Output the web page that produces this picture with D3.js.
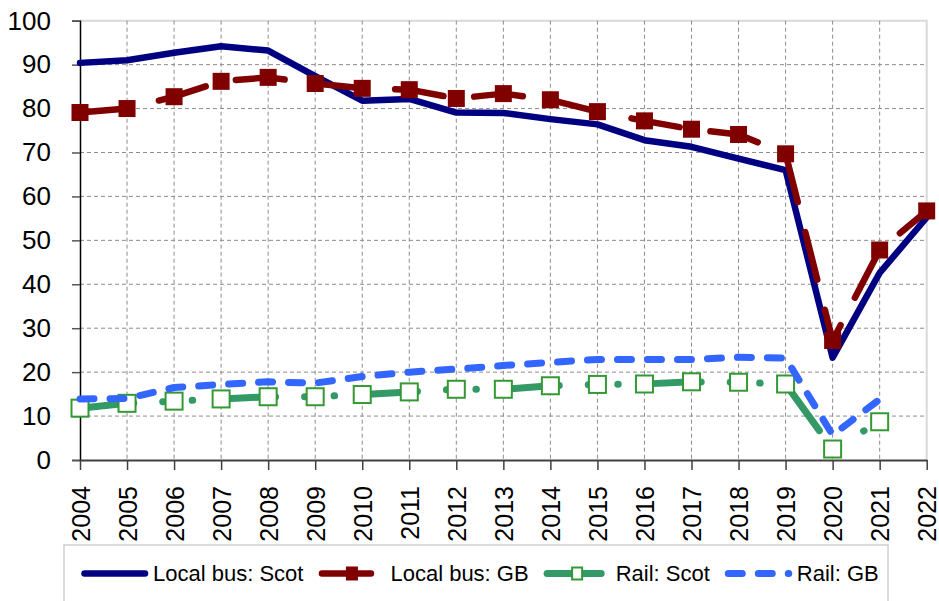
<!DOCTYPE html>
<html>
<head>
<meta charset="utf-8">
<title>Bus and rail</title>
<script src="https://cdn.jsdelivr.net/npm/d3@7"></script>
<style>
  body { margin: 0; background: #fff; }
  svg { display: block; font-family: "Liberation Sans", Arial, sans-serif; }
</style>
</head>
<body>
<script>
// chart data
const years = [2004, 2005, 2006, 2007, 2008, 2009, 2010, 2011, 2012, 2013,
               2014, 2015, 2016, 2017, 2018, 2019, 2020, 2021, 2022];
const yTicks = [0, 10, 20, 30, 40, 50, 60, 70, 80, 90, 100];

const busScot = [90.4, 91.0, 92.7, 94.2, 93.2, 87.4, 81.8, 82.2, 79.1, 79.0,
                 77.6, 76.4, 72.8, 71.3, 68.6, 66.0, 23.3, 42.6, 55.2];
const busGB = [79.1, 80.0, 82.7, 86.2, 87.1, 85.7, 84.6, 84.3, 82.3, 83.4,
               82.0, 79.3, 77.2, 75.3, 74.1, 69.7, 27.2, 47.8, 56.7];
const railScot = [11.8, 12.9, 13.4, 13.9, 14.4, 14.4, 14.9, 15.5, 16.1, 16.1,
                  16.9, 17.2, 17.3, 17.8, 17.7, 17.3, 2.5, 8.7, null];
const railGB = [13.9, 14.0, 16.5, 17.2, 17.8, 17.5, 19.0, 20.0, 20.7, 21.5,
                22.2, 22.9, 22.9, 22.9, 23.4, 23.2, 5.7, 13.8, null];

const series = [
  { name: "Local bus: Scot", values: busScot, color: "#000080", width: 6.5, dash: null, marker: null },
  { name: "Local bus: GB", values: busGB, color: "#800000", width: 6.5, dash: "49,31", marker: "filled" },
  { name: "Rail: Scot", values: railScot, color: "#339966", width: 7, dash: "54,29,0.5,29,0.5,29", marker: "hollow" },
  { name: "Rail: GB", values: railGB, color: "#3366ff", width: 7, dash: "14,16", marker: null }
];

const width = 939, height = 601;
const margin = { left: 80, right: 12.3, top: 20.7, bottom: 141 };

const svg = d3.select("body").append("svg")
  .attr("width", width)
  .attr("height", height);

const x = d3.scaleLinear()
  .domain([years[0], years[years.length - 1]])
  .range([margin.left, width - margin.right]);

const y = d3.scaleLinear()
  .domain([0, 100])
  .range([height - margin.bottom, margin.top]);

// plot area border (top / right)
svg.append("path")
  .attr("d", `M${x.range()[0]},${y(100)}H${x.range()[1]}V${y(0)}`)
  .attr("fill", "none")
  .attr("stroke", "#d9d9d9")
  .attr("stroke-width", 2);

// grid
svg.append("g")
  .selectAll("line")
  .data(yTicks.slice(1, -1))
  .join("line")
    .attr("x1", x.range()[0]).attr("x2", x.range()[1])
    .attr("y1", d => y(d)).attr("y2", d => y(d))
    .attr("stroke", "#8c8c8c")
    .attr("stroke-dasharray", "4,3");

svg.append("g")
  .selectAll("line")
  .data(years.slice(1, -1))
  .join("line")
    .attr("x1", d => x(d)).attr("x2", d => x(d))
    .attr("y1", y(100)).attr("y2", y(0))
    .attr("stroke", "#8c8c8c")
    .attr("stroke-dasharray", "4,3");

// y axis
const yAxis = svg.append("g")
  .attr("transform", `translate(${margin.left},0)`)
  .call(d3.axisLeft(y).tickValues(yTicks).tickSize(8).tickPadding(21));
yAxis.select(".domain").attr("stroke", "#000").attr("stroke-width", 1.5);
yAxis.selectAll(".tick line").attr("stroke", "#555").attr("stroke-width", 1.5);
yAxis.selectAll("text")
  .attr("font-size", 26)
  .attr("font-family", "Liberation Sans, Arial, sans-serif")
  .attr("fill", "#000");

// x axis
const xAxis = svg.append("g")
  .attr("transform", `translate(0,${y(0)})`)
  .call(d3.axisBottom(x).tickValues(years).tickFormat(d3.format("d")).tickSize(10).tickSizeOuter(0));
xAxis.select(".domain").attr("stroke", "#404040").attr("stroke-width", 2);
xAxis.selectAll(".tick line").attr("stroke", "#404040").attr("stroke-width", 1.5);
xAxis.selectAll("text")
  .attr("font-size", 25)
  .attr("font-family", "Liberation Sans, Arial, sans-serif")
  .attr("fill", "#000")
  .attr("text-anchor", "end")
  .attr("transform", "translate(0,26) rotate(-90)")
  .attr("x", 0)
  .attr("y", 0)
  .attr("dy", "0.36em");

// lines
const line = d3.line()
  .defined(d => d[1] != null)
  .x(d => x(d[0]))
  .y(d => y(d[1]));

const mSize = 17;

series.forEach(s => {
  const pts = years.map((yr, i) => [yr, s.values[i]]);
  svg.append("path")
    .datum(pts)
    .attr("d", line)
    .attr("fill", "none")
    .attr("stroke", s.color)
    .attr("stroke-width", s.width)
    .attr("stroke-linecap", "round")
    .attr("stroke-linejoin", "round")
    .attr("stroke-dasharray", s.dash);

  if (s.marker) {
    svg.append("g")
      .selectAll("rect")
      .data(pts.filter(d => d[1] != null))
      .join("rect")
        .attr("x", d => x(d[0]) - mSize / 2)
        .attr("y", d => y(d[1]) - mSize / 2)
        .attr("width", mSize)
        .attr("height", mSize)
        .attr("fill", s.marker === "filled" ? s.color : "#fff")
        .attr("stroke", s.marker === "filled" ? s.color : "#339933")
        .attr("stroke-width", s.marker === "filled" ? 0 : 2);
  }
});

// legend
const legend = svg.append("g");
legend.append("rect")
  .attr("x", 64).attr("y", 545)
  .attr("width", 824).attr("height", 70)
  .attr("fill", "#fff")
  .attr("stroke", "#d0d0d0")
  .attr("stroke-width", 1.5);

let lx = 81;
const ly = 573.5;
series.forEach(s => {
  const g = legend.append("g");
  g.append("line")
    .attr("x1", lx + 3.5).attr("x2", lx + 64)
    .attr("y1", ly).attr("y2", ly)
    .attr("stroke", s.color)
    .attr("stroke-width", s.width)
    .attr("stroke-linecap", "round")
    .attr("stroke-dasharray", s.dash);
  if (s.marker === "filled") {
    g.append("rect")
      .attr("x", lx + 33.5 - 6).attr("y", ly - 7)
      .attr("width", 12).attr("height", 14)
      .attr("fill", s.color);
  } else if (s.marker === "hollow") {
    g.append("rect")
      .attr("x", lx + 33.5 - 5).attr("y", ly - 6)
      .attr("width", 10).attr("height", 12)
      .attr("fill", "#fff")
      .attr("stroke", "#339933")
      .attr("stroke-width", 2);
  }
  const t = g.append("text")
    .attr("x", lx + 72)
    .attr("y", ly + 7.5)
    .attr("font-size", 22)
    .attr("fill", "#000")
    .text(s.name);
  lx = lx + 72 + t.node().getComputedTextLength() + 15;
});
</script>
</body>
</html>
